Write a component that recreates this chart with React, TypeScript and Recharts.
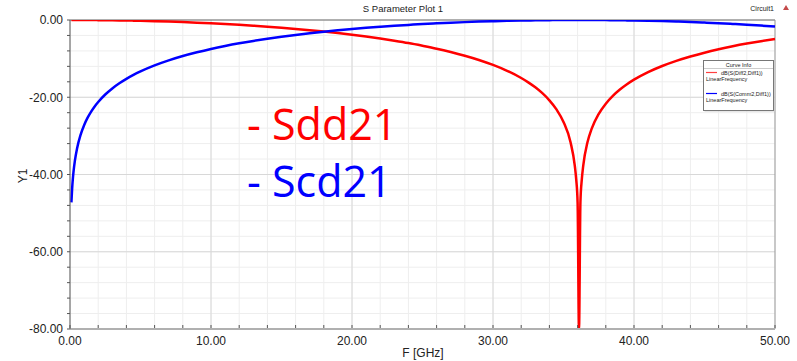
import { LineChart, Line, XAxis, YAxis, CartesianGrid, ReferenceLine } from "recharts";

// frequency points (GHz)
const freq = [
  0.1, 0.15, 0.2, 0.25, 0.35, 0.5, 0.75, 1, 1.25, 1.5, 1.75, 2, 2.5, 3, 3.5, 4, 4.5, 5, 6, 7, 8,
  9, 10, 11, 12, 13, 14, 15, 16, 17, 18, 19, 20, 21, 22, 23, 24, 25, 26, 27, 28, 29, 30, 31, 32,
  32.5, 33, 33.5, 34, 34.5, 35, 35.5, 35.8, 35.9, 36, 36.1, 36.2, 36.3, 36.4, 36.7, 37, 37.5, 38,
  38.5, 39, 39.5, 40, 41, 42, 43, 44, 45, 46, 47, 48, 49, 50,
];

// dB(S(Diff2,Diff1))
const sdd21 = [
  0, 0, 0, 0, 0, 0, -0.005, -0.008, -0.013, -0.018, -0.025, -0.033, -0.051, -0.074, -0.101,
  -0.132, -0.168, -0.207, -0.299, -0.409, -0.537, -0.684, -0.85, -1.035, -1.242, -1.471, -1.723,
  -1.999, -2.303, -2.63, -2.989, -3.385, -3.815, -4.279, -4.792, -5.358, -5.969, -6.67, -7.42,
  -8.28, -9.247, -10.34, -11.63, -13.15, -15.02, -16.14, -17.43, -18.95, -20.8, -23.15, -26.4,
  -31.66, -37.69, -41.21, -47.23, -80, -47.23, -41.21, -37.69, -31.66, -28.14, -24.31, -21.66,
  -19.64, -18.0, -16.63, -15.45, -13.49, -11.91, -10.58, -9.45, -8.46, -7.59, -6.81, -6.11,
  -5.48, -4.9,
];

// dB(S(Comm2,Diff1))
const scd21 = [
  -47.23, -43.71, -41.21, -39.27, -36.35, -33.25, -29.73, -27.23, -25.29, -23.71, -22.37, -21.22,
  -19.29, -17.71, -16.38, -15.23, -14.22, -13.32, -11.76, -10.46, -9.34, -8.37, -7.5, -6.73,
  -6.04, -5.42, -4.85, -4.33, -3.86, -3.43, -3.03, -2.67, -2.33, -2.03, -1.75, -1.49, -1.27,
  -1.05, -0.87, -0.7, -0.55, -0.42, -0.31, -0.21, -0.14, -0.11, -0.08, -0.06, -0.04, -0.02,
  -0.01, 0, 0, 0, 0, 0, 0, 0, 0, 0, -0.01, -0.02, -0.03, -0.05, -0.07, -0.1, -0.13, -0.2, -0.29,
  -0.4, -0.52, -0.67, -0.83, -1.02, -1.22, -1.45, -1.7,
];

const xTicks = [0, 2, 4, 6, 8, 10, 12, 14, 16, 18, 20, 22, 24, 26, 28, 30, 32, 34, 36, 38, 40, 42, 44, 46, 48, 50];
const xMajor = [0, 10, 20, 30, 40, 50];
const yTicks = [-80, -76, -72, -68, -64, -60, -56, -52, -48, -44, -40, -36, -32, -28, -24, -20, -16, -12, -8, -4, 0];
const yMajor = [-80, -60, -40, -20, 0];

const data = freq.map((f, i) => ({ f, sdd21: sdd21[i], scd21: scd21[i] }));

const font = "'Liberation Sans', Arial, sans-serif";

const XTick = (props: any) => {
  const { x, y, payload } = props;
  const v = payload.value;
  // y is axis + tickSize(6) + tickMargin(2)
  return (
    <g>
      <line x1={x} x2={x} y1={y - 9} y2={y - 12} stroke="#555" />
      {xMajor.includes(v) && (
        <text x={x} y={y + 8} textAnchor="middle" fontSize={12} fontFamily={font} fill="#222">
          {v.toFixed(2)}
        </text>
      )}
    </g>
  );
};

export default function App() {
  return (
    <div style={{ position: "absolute", left: 0, top: 0, width: 797, height: 361, background: "#fff" }}>
      <LineChart width={797} height={361} data={data} margin={{ top: 20, right: 22, bottom: 2, left: 0 }}>
        <CartesianGrid stroke="#eeeeee" />
        {xMajor.slice(1, -1).map((v) => (
          <ReferenceLine key={"x" + v} x={v} stroke="#d8d8d8" />
        ))}
        {yMajor.slice(1, -1).map((v) => (
          <ReferenceLine key={"y" + v} y={v} stroke="#d8d8d8" />
        ))}
        <ReferenceLine y={0} stroke="#666" />
        <ReferenceLine x={50} stroke="#999" />
        <XAxis
          dataKey="f"
          type="number"
          domain={[0, 50]}
          ticks={xTicks}
          height={30}
          tickSize={6}
          tickMargin={2}
          tickLine={false}
          axisLine={{ stroke: "#b0b0b0", strokeWidth: 2 }}
          tick={<XTick />}
          interval={0}
        />
        <YAxis
          type="number"
          domain={[-80, 0]}
          ticks={yTicks}
          allowDataOverflow
          width={70}
          interval={0}
          tickSize={3}
          tickMargin={4}
          tickLine={{ stroke: "#555" }}
          axisLine={{ stroke: "#555" }}
          tickFormatter={(v: number) => (yMajor.includes(v) ? v.toFixed(2) : "")}
          tick={{ fontSize: 12, fontFamily: font, fill: "#222" }}
        />
        <Line
          type="monotone"
          dataKey="sdd21"
          stroke="#ff0000"
          strokeWidth={2.5}
          dot={false}
          isAnimationActive={false}
        />
        <Line
          type="monotone"
          dataKey="scd21"
          stroke="#0000ff"
          strokeWidth={2.5}
          dot={false}
          isAnimationActive={false}
        />
      </LineChart>

      <svg
        width={797}
        height={361}
        style={{ position: "absolute", left: 0, top: 0, pointerEvents: "none" }}
      >
        <text x={403} y={12} textAnchor="middle" fontSize={9.5} fontFamily={font} fill="#222">
          S Parameter Plot 1
        </text>
        <text x={774} y={11} textAnchor="end" fontSize={7} fontFamily={font} fill="#222">
          Circuit1
        </text>
        <polygon points="783,10 789,10 786,5" fill="#c44a4a" />

        <text x={23} y={176} transform="rotate(-90 23 176)" textAnchor="middle" dominantBaseline="central" fontSize={12} fontFamily={font} fill="#222">
          Y1
        </text>
        <text x={423} y={357} textAnchor="middle" fontSize={12} fontFamily={font} fill="#222">
          F [GHz]
        </text>

        <text x={247} y={140} fontSize={43} fontFamily="'Open Sans', sans-serif" fill="#ff0000">
          - Sdd21
        </text>
        <text x={247} y={197} fontSize={43} fontFamily="'Open Sans', sans-serif" fill="#0000ff">
          - Scd21
        </text>

        {/* Curve Info box */}
        <rect x={704.5} y={61.5} width={70} height={50} fill="#d0d0d0" />
        <rect x={703.5} y={60.5} width={70} height={50} fill="#fff" stroke="#777" />
        <text x={738.5} y={66.5} textAnchor="middle" fontSize={5.5} fontFamily={font} fill="#222">
          Curve Info
        </text>
        <line x1={704} x2={773} y1={68.5} y2={68.5} stroke="#ccc" />
        <line x1={706} x2={717} y1={72.5} y2={72.5} stroke="#ff4040" strokeWidth={1.2} />
        <text x={721} y={74.5} fontSize={5.5} fontFamily={font} fill="#222">dB(S(Diff2,Diff1))</text>
        <text x={706} y={81} fontSize={5.5} fontFamily={font} fill="#222">LinearFrequency</text>
        <line x1={706} x2={717} y1={93.5} y2={93.5} stroke="#0000ff" strokeWidth={1.2} />
        <text x={721} y={95.5} fontSize={5.5} fontFamily={font} fill="#222">dB(S(Comm2,Diff1))</text>
        <text x={706} y={102} fontSize={5.5} fontFamily={font} fill="#222">LinearFrequency</text>
      </svg>
    </div>
  );
}
